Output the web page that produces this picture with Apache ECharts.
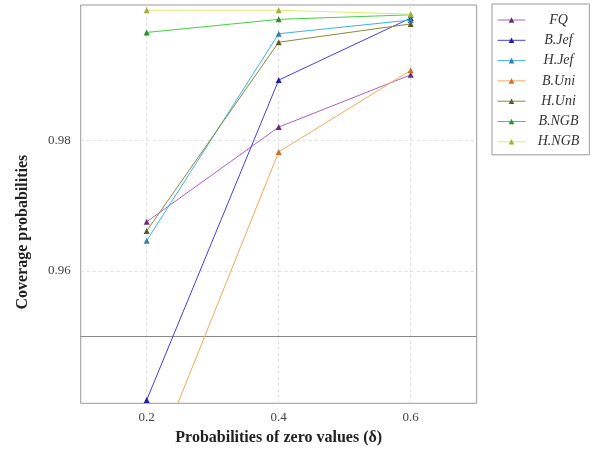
<!DOCTYPE html>
<html>
<head>
<meta charset="utf-8">
<script src="https://cdn.jsdelivr.net/npm/echarts@6/dist/echarts.min.js"></script>
<style>html,body{margin:0;padding:0;background:#fff;}#c{width:601px;height:454px;}</style>
</head>
<body>
<div id="c"></div>
<script>
const xValues = [0.2, 0.4, 0.6];
const xTicks = [0.2, 0.4, 0.6];
const yTicks = [0.96, 0.98];
const refLine = 0.95;
const seriesNames = ['FQ', 'B.Jef', 'H.Jef', 'B.Uni', 'H.Uni', 'B.NGB', 'H.NGB'];
const FQ    = [0.9675, 0.9820, 0.9900];
const BJef  = [0.9402, 0.9892, 0.9987];
const HJef  = [0.9646, 0.9963, 0.9984];
const BUni  = [0.9278, 0.9782, 0.9907];
const HUni  = [0.9661, 0.9950, 0.9978];
const BNGB  = [0.9965, 0.9985, 0.9992];
const HNGB  = [0.9999, 0.9999, 0.9993];
const seriesValues = [FQ, BJef, HJef, BUni, HUni, BNGB, HNGB];
const lineColors = ['#b060c0', '#4040e8', '#40b0f0', '#f5a858', '#8a8a3a', '#44d044', '#d8f070'];
const markColors = ['#6a2a7a', '#2020a0', '#3080b0', '#c87030', '#5a5a28', '#2a902a', '#a0b040'];

const chart = echarts.init(document.getElementById('c'), null, {renderer: 'canvas'});
const serif = 'Liberation Serif';
const series = seriesNames.map((n, i) => {
  const s = {
    name: n,
    type: 'line',
    data: xValues.map((x, j) => [x, seriesValues[i][j]]),
    symbol: 'triangle',
    symbolSize: 6,
    lineStyle: {color: lineColors[i], width: 1},
    itemStyle: {color: markColors[i]},
    z: 3 + i
  };
  if (i === 0) {
    s.markLine = {
      silent: true,
      symbol: 'none',
      label: {show: false},
      lineStyle: {color: '#888', type: 'solid', width: 1},
      data: [{yAxis: refLine}],
      z: 1
    };
  }
  return s;
});

chart.setOption({
  animation: false,
  backgroundColor: '#fff',
  grid: {left: 80.7, right: 124.3, top: 5, bottom: 50.7, show: true, borderColor: '#999', borderWidth: 1, containLabel: false},
  legend: {
    orient: 'vertical',
    left: 492, top: 4,
    padding: [9, 10, 6, 5],
    itemWidth: 28, itemHeight: 7, itemGap: 6.3,
    borderColor: '#999', borderWidth: 1,
    data: seriesNames,
    lineStyle: {width: 1},
    formatter: n => '{a|' + n + '}',
    textStyle: {
      fontFamily: serif, fontStyle: 'italic', fontSize: 14, color: '#333',
      rich: {a: {width: 56, align: 'center', fontFamily: serif, fontStyle: 'italic', fontSize: 14, color: '#333'}}
    }
  },
  xAxis: {
    type: 'value', min: 0.1, max: 0.7,
    name: 'Probabilities of zero values (δ)',
    nameLocation: 'middle', nameGap: 27,
    nameTextStyle: {fontFamily: serif, fontWeight: 'bold', fontSize: 16, color: '#222'},
    axisLine: {show: false},
    axisTick: {show: false, customValues: xTicks},
    axisLabel: {customValues: xTicks, formatter: v => v.toFixed(1), fontFamily: serif, fontSize: 13, color: '#444', margin: 8},
    splitLine: {show: true, lineStyle: {color: '#e0e0e0', type: [3, 3], width: 1}}
  },
  yAxis: {
    type: 'value', min: 0.9397, max: 1.0007,
    name: 'Coverage probabilities',
    nameLocation: 'middle', nameGap: 50,
    nameTextStyle: {fontFamily: serif, fontWeight: 'bold', fontSize: 16, color: '#222', padding: [0, 56, 0, 0]},
    axisLine: {show: false},
    axisTick: {show: false, customValues: yTicks},
    axisLabel: {customValues: yTicks, formatter: v => v.toFixed(2), fontFamily: serif, fontSize: 13, color: '#444', margin: 10},
    splitLine: {show: true, lineStyle: {color: '#e0e0e0', type: [3, 3], width: 1}}
  },
  series: series
});
</script>
</body>
</html>
